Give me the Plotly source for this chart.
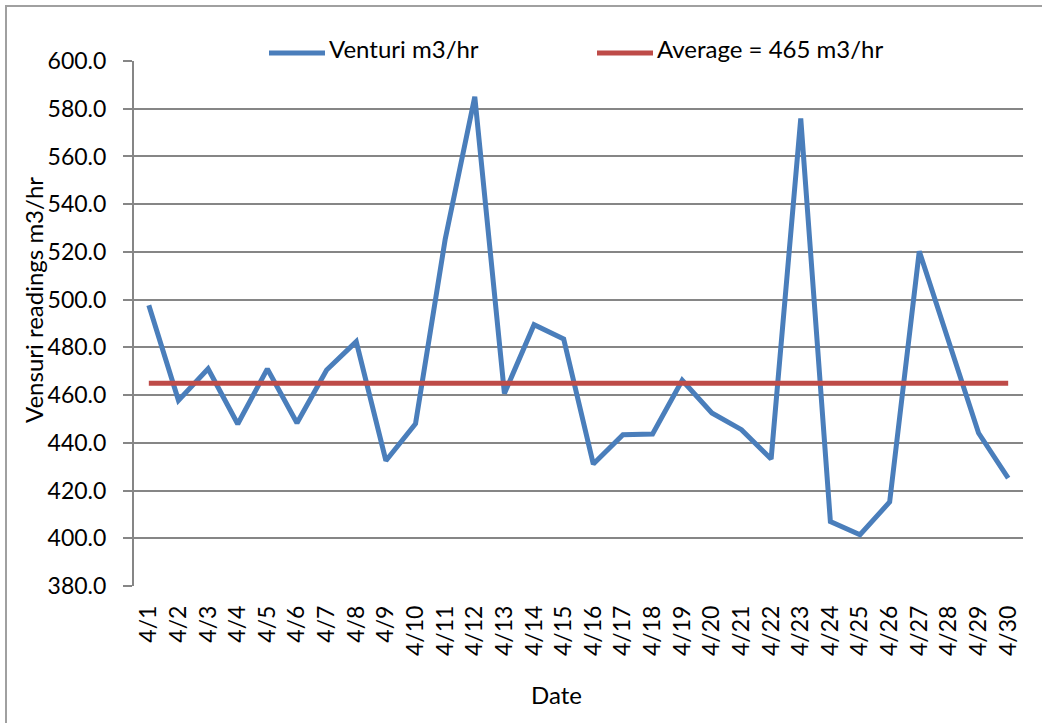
import plotly.graph_objects as go

# ---- data ----
dates = ["4/1", "4/2", "4/3", "4/4", "4/5", "4/6", "4/7", "4/8", "4/9", "4/10",
         "4/11", "4/12", "4/13", "4/14", "4/15", "4/16", "4/17", "4/18", "4/19", "4/20",
         "4/21", "4/22", "4/23", "4/24", "4/25", "4/26", "4/27", "4/28", "4/29", "4/30"]
venturi = [497.6, 457.8, 471.0, 447.9, 471.0, 448.3, 470.5, 482.4, 432.5, 448.0,
           525.2, 585.0, 460.7, 489.5, 483.5, 431.1, 443.4, 443.7, 466.2, 452.5,
           445.5, 433.2, 575.9, 407.0, 401.5, 415.2, 520.3, 482.8, 444.1, 425.2]
average_value = 465
average = [average_value] * len(dates)

series_names = ["Venturi m3/hr", "Average = 465 m3/hr"]
y_title = "Vensuri readings m3/hr"
x_title = "Date"

# ---- layout geometry ----
W, H = 1042, 723
L, R, T, B = 134, 19, 61, 137
PW, PH = W - L - R, H - T - B


def px(x):
    return (x - L) / PW


def py(y):
    return (H - B - y) / PH


BLUE = "#4A7EBB"
RED = "#BE4B48"
GRID = "#868686"
FONT = "Lato"

fig = go.Figure()
fig.add_trace(go.Scatter(x=dates, y=venturi, mode="lines", name=series_names[0],
                         line=dict(color=BLUE, width=5), showlegend=False))
fig.add_trace(go.Scatter(x=dates, y=average, mode="lines", name=series_names[1],
                         line=dict(color=RED, width=5), showlegend=False))

shapes = []
annotations = []

# outer chart border (only top/left visible)
shapes.append(dict(type="rect", xref="paper", yref="paper",
                   x0=px(6), x1=px(1060), y0=py(740), y1=py(6),
                   line=dict(color="#A0A0A0", width=2), layer="below"))

# manual legend
legend_items = [(269, 325, 327, BLUE, series_names[0]),
                (597, 653, 655, RED, series_names[1])]
for x0, x1, xt, col, name in legend_items:
    shapes.append(dict(type="line", xref="paper", yref="paper",
                       x0=px(x0), x1=px(x1), y0=py(53), y1=py(53),
                       line=dict(color=col, width=5)))
    annotations.append(dict(xref="paper", yref="paper", x=px(xt), y=py(49),
                            xanchor="left", yanchor="middle", showarrow=False,
                            text=name, font=dict(family=FONT, size=24, color="black")))

annotations.append(dict(xref="paper", yref="paper", x=px(33), y=py(300),
                        xanchor="center", yanchor="middle", showarrow=False,
                        textangle=-90, text=y_title,
                        font=dict(family=FONT, size=24, color="black")))
annotations.append(dict(xref="paper", yref="paper", x=px(556), y=py(694),
                        xanchor="center", yanchor="middle", showarrow=False,
                        text=x_title, font=dict(family=FONT, size=24, color="black")))

fig.update_layout(
    width=W, height=H,
    margin=dict(l=L, r=R, t=T, b=B, pad=0),
    paper_bgcolor="white", plot_bgcolor="white",
    font=dict(family=FONT, size=23, color="black"),
    shapes=shapes, annotations=annotations,
    showlegend=False,
)
fig.update_xaxes(
    type="category", range=[-0.5, len(dates) - 0.5],
    tickangle=-90, showgrid=False, showline=False, zeroline=False,
    ticks="", ticklabelstandoff=14,
    tickfont=dict(family=FONT, size=23, color="black"),
)
fig.update_yaxes(
    range=[380, 600], dtick=20, tick0=380, tickformat=".1f",
    showgrid=True, gridcolor=GRID, gridwidth=2,
    showline=True, linecolor=GRID, linewidth=2,
    ticks="outside", ticklen=9, tickwidth=2, tickcolor=GRID,
    zeroline=False, ticklabelstandoff=12,
    tickfont=dict(family=FONT, size=23, color="black"),
)

fig.write_html("out.html")
